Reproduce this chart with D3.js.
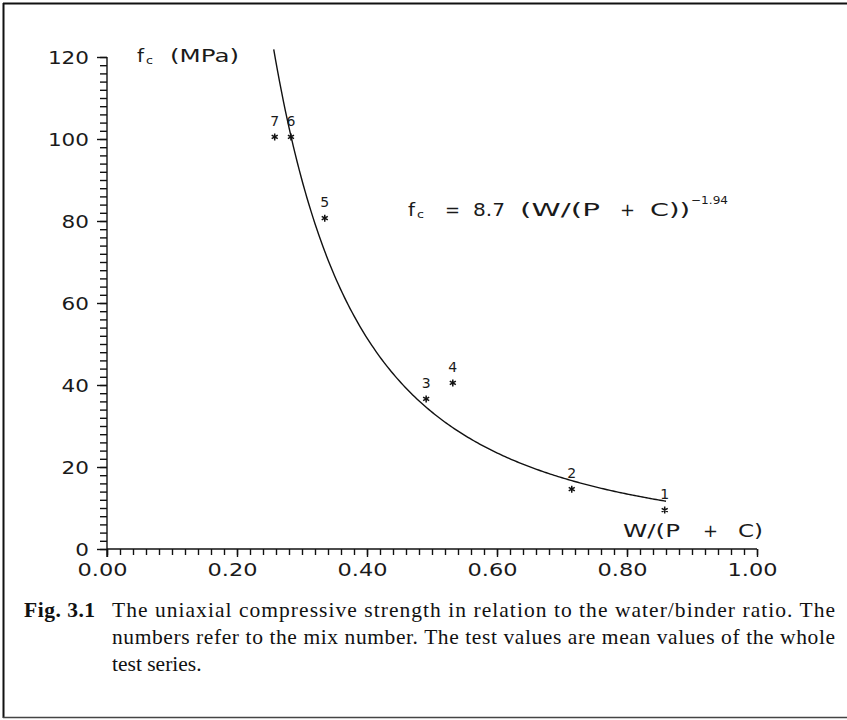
<!DOCTYPE html>
<html>
<head>
<meta charset="utf-8">
<script src="https://cdn.jsdelivr.net/npm/d3@7"></script>
<style>
  html, body { margin: 0; padding: 0; background: #fff; }
  svg { display: block; }
  .plot text { font-family: "DejaVu Sans", sans-serif; fill: #1a1a1a; }
  .caption text { font-family: "Liberation Serif", "Times New Roman", serif; fill: #111; }
</style>
</head>
<body>
<svg id="chart" width="847" height="720"></svg>
<script>
// Mix numbers, water/binder ratio and mean compressive strength (MPa)
const mixNumbers = ["1", "2", "3", "4", "5", "6", "7"];
const wbRatio    = [0.858, 0.715, 0.491, 0.532, 0.335, 0.283, 0.258];
const strength   = [9.5, 14.6, 36.6, 40.5, 80.7, 100.5, 100.5];

// Fitted power law fc = a * (W/(P+C))^b
const fitA = 8.7;
const fitB = -1.94;
const fitRange = [0.2565, 0.86];

// Axis ticks
const xMajorTicks = [0, 0.2, 0.4, 0.6, 0.8, 1.0];
const xTickLabels = ["0.00", "0.20", "0.40", "0.60", "0.80", "1.00"];
const yMajorTicks = [0, 20, 40, 60, 80, 100, 120];
const yTickLabels = ["0", "20", "40", "60", "80", "100", "120"];

const captionHead = "Fig. 3.1";
const captionLines = [
  "The uniaxial compressive strength in relation to the water/binder ratio. The",
  "numbers refer to the mix number. The test values are mean values of the whole",
  "test series."
];

const svg = d3.select("#chart");
const PITCH = 13.7;   // plotter lettering advance per character
const FS = 18;        // plotter lettering size

// Frame around figure and caption
const frame = svg.append("g").attr("stroke", "#111").attr("fill", "none");
frame.append("line").attr("x1", 3).attr("x2", 847).attr("y1", 3.5).attr("y2", 3.5).attr("stroke-width", 2);
frame.append("line").attr("x1", 3.5).attr("x2", 3.5).attr("y1", 3).attr("y2", 718).attr("stroke-width", 2);
frame.append("line").attr("x1", 3).attr("x2", 847).attr("y1", 717.5).attr("y2", 717.5).attr("stroke-width", 1.5).attr("stroke", "#444");

const x = d3.scaleLinear().domain([0, 1]).range([107, 757]);
const y = d3.scaleLinear().domain([0, 120]).range([549, 57]);

const plot = svg.append("g").attr("class", "plot");

// Minor ticks
const xMinor = d3.axisBottom(x).tickValues(d3.range(0, 1.0001, 0.02)).tickSize(6).tickFormat("");
const yMinor = d3.axisLeft(y).tickValues(d3.range(0, 120.001, 2)).tickSize(7).tickFormat("");
// Major ticks with labels
const xMajor = d3.axisBottom(x).tickValues(xMajorTicks).tickSize(8).tickPadding(6)
  .tickFormat((d, i) => xTickLabels[i]);
const yMajor = d3.axisLeft(y).tickValues(yMajorTicks).tickSize(10).tickPadding(8)
  .tickFormat((d, i) => yTickLabels[i]);

function styleAxis(g) {
  g.selectAll("path, line").attr("stroke", "#111").attr("stroke-width", 1.4);
  g.selectAll("text").attr("font-size", FS)
    .attr("font-family", "DejaVu Sans, sans-serif").attr("fill", "#1a1a1a");
}

plot.append("g").attr("transform", `translate(0,${y(0)})`).call(xMinor).call(styleAxis)
  .select(".domain").remove();
plot.append("g").attr("transform", `translate(${x(0)},0)`).call(yMinor).call(styleAxis)
  .select(".domain").remove();
const gx = plot.append("g").attr("transform", `translate(0,${y(0)})`).call(xMajor).call(styleAxis);
gx.select(".domain").attr("d", `M${x(0)},0H${x(1)}`);
gx.selectAll(".tick text")
  .attr("dx", -5)
  .attr("textLength", (d, i) => xTickLabels[i].length * 12.5)
  .attr("lengthAdjust", "spacingAndGlyphs");
const gy = plot.append("g").attr("transform", `translate(${x(0)},0)`).call(yMajor).call(styleAxis);
gy.select(".domain").attr("d", `M0,${y(120)}V${y(0) + 8}`);
gy.selectAll(".tick text")
  .attr("dy", "0.36em")
  .attr("textLength", (d, i) => yTickLabels[i].length * PITCH)
  .attr("lengthAdjust", "spacingAndGlyphs");

// Lettering chunk: text stretched to a given width at a given position
function chunk(parent, str, x0, width, opts = {}) {
  const t = parent.append("tspan").attr("x", x0).text(str);
  if (width) t.attr("textLength", width).attr("lengthAdjust", "spacingAndGlyphs");
  if (opts.size) t.attr("font-size", opts.size);
  if (opts.y != null) t.attr("y", opts.y);
  return t;
}

// Axis titles
const yTitle = plot.append("text").attr("y", 62).attr("font-size", FS);
chunk(yTitle, "f", 137, 7);
chunk(yTitle, "c", 146, 7, { size: 11, y: 64 });
chunk(yTitle, "(MPa)", 170, 69, { y: 62 });

const xTitle = plot.append("text").attr("y", 537).attr("font-size", FS);
chunk(xTitle, "W/(P", 623, 57);
chunk(xTitle, "+", 703, 15);
chunk(xTitle, "C)", 738, 25);

// Equation of the fitted curve
const eq = plot.append("text").attr("y", 216).attr("font-size", FS);
chunk(eq, "f", 408, 7);
chunk(eq, "c", 417, 7, { size: 11, y: 218 });
chunk(eq, "=", 445, 15, { y: 216 });
chunk(eq, "8.7", 473, 32);
chunk(eq, "(W/(P", 520, 80);
chunk(eq, "+", 620, 15);
chunk(eq, "C))", 650, 40);
chunk(eq, "\u22121.94", 691, 37, { size: 11, y: 204 });

// Fitted curve
const curvePts = d3.range(0, 201).map(i => {
  const w = fitRange[0] + (fitRange[1] - fitRange[0]) * i / 200;
  return [w, fitA * Math.pow(w, fitB)];
});
plot.append("path")
  .datum(curvePts)
  .attr("fill", "none")
  .attr("stroke", "#111")
  .attr("stroke-width", 1.4)
  .attr("d", d3.line().x(d => x(d[0])).y(d => y(d[1])));

// Test points
const points = mixNumbers.map((m, i) => ({ m, w: wbRatio[i], f: strength[i] }));
const star = d3.symbol().type(d3.symbolAsterisk).size(34);
plot.selectAll(".pt").data(points).join("path")
  .attr("class", "pt")
  .attr("transform", d => `translate(${x(d.w)},${y(d.f)})`)
  .attr("d", star)
  .attr("fill", "none")
  .attr("stroke", "#111")
  .attr("stroke-width", 1.5);
plot.selectAll(".lbl").data(points).join("text")
  .attr("class", "lbl")
  .attr("x", d => x(d.w))
  .attr("y", d => y(d.f) - 11)
  .attr("text-anchor", "middle")
  .attr("font-size", 14)
  .text(d => d.m);

// Caption
const cap = svg.append("g").attr("class", "caption");
cap.append("text").attr("x", 24).attr("y", 617).attr("font-size", 21.5).attr("font-weight", "bold")
  .attr("textLength", 71).attr("lengthAdjust", "spacing")
  .text(captionHead);
cap.selectAll(".cl").data(captionLines).join("text")
  .attr("class", "cl")
  .attr("x", 112)
  .attr("y", (d, i) => 617 + i * 27)
  .attr("font-size", 21.5)
  .each(function (d, i) {
    if (i < captionLines.length - 1) {
      d3.select(this).attr("textLength", 723).attr("lengthAdjust", "spacing");
    }
  })
  .text(d => d);
</script>
</body>
</html>
